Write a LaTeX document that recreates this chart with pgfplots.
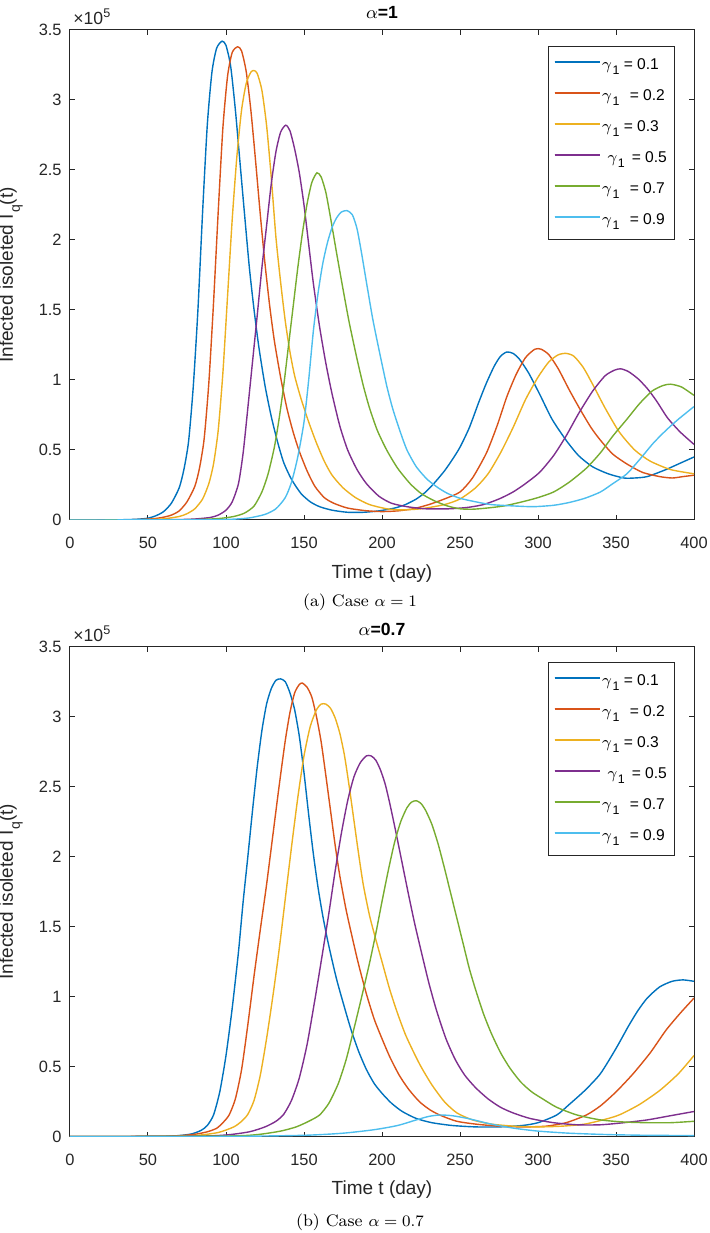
\documentclass[border=0pt]{standalone}
\usepackage{pgfplots}
\pgfplotsset{compat=1.18}
\usepackage{fontspec}
\newfontfamily\arial{Liberation Sans}
\definecolor{c1}{rgb}{0,0.447,0.741}
\definecolor{c2}{rgb}{0.85,0.325,0.098}
\definecolor{c3}{rgb}{0.929,0.694,0.125}
\definecolor{c4}{rgb}{0.494,0.184,0.556}
\definecolor{c5}{rgb}{0.466,0.674,0.188}
\definecolor{c6}{rgb}{0.301,0.745,0.933}
\definecolor{axc}{rgb}{0.15,0.15,0.15}
\newcommand{\gam}{$\gamma$\kern0.3pt\lower0.7ex\hbox{\fontsize{6.2}{7}\selectfont 1}}
\pgfplotsset{
  myax/.style={
    scale only axis, width=312pt, height=245pt,
    xmin=0, xmax=400, ymin=0, ymax=3.5,
    xtick={0,50,...,400}, ytick={0,0.5,...,3.5},
    scaled ticks=false, clip mode=individual,
    tick align=inside, major tick length=2.5pt,
    axis line style={draw=axc, line width=0.5pt},
    every tick/.style={axc, line width=0.5pt},
    /pgf/number format/assume math mode=true,
    ticklabel style={font=\arial\fontsize{8.2}{9.8}\selectfont, text=axc},
    yticklabel style={anchor=east, inner sep=0pt, xshift=-4pt},
    xticklabel style={anchor=north, inner sep=0pt, yshift=-8.5pt},
    xlabel={Time t (day)},
    every axis x label/.style={at={(axis description cs:0.5,-0.0898)}, anchor=north, inner sep=0pt, font=\arial\fontsize{9.5}{11}\selectfont, text=axc},
    ylabel={Infected isoleted I\kern0.5pt\lower0.7ex\hbox{\fontsize{7}{8}\selectfont q}(t)},
    every axis y label/.style={at={(axis description cs:-0.0946,0.5)}, rotate=90, anchor=center, inner sep=0pt, font=\arial\fontsize{9.5}{11}\selectfont, text=axc},
    legend style={at={(axis description cs:1,1)}, anchor=north east, xshift=-9.5pt, yshift=-7.5pt,
      draw=axc, line width=0.4pt, fill=white, inner xsep=2.85pt, inner ysep=4pt,
      row sep=4.5pt, font=\arial\fontsize{7.8}{9}\selectfont,
      nodes={inner sep=1pt, text height=6.5pt, text depth=2.5pt}},
    legend cell align=left,
    legend image code/.code={\draw[#1, line width=0.75pt] (0pt,1.5pt) -- (21pt,1.5pt); \path (0pt,1.5pt) -- (22.5pt,1.5pt);},
    every axis plot/.append style={line width=0.7pt, smooth, tension=0.4},
  }
}
\newcommand{\axdeco}[1]{%
\node[anchor=base west, inner sep=0pt, font=\arial\fontsize{8.8}{9}\selectfont, text=axc] at (axis description cs:0,1) [xshift=1.5pt, yshift=2.8pt] {×10\raisebox{0.75ex}{\fontsize{6.3}{7}\selectfont 5}};
\node[anchor=base, inner sep=0pt, font=\arial\bfseries\fontsize{8.8}{10}\selectfont, text=black] at (axis description cs:0.5,1) [yshift=5.5pt] {#1};
}
\begin{document}
\begin{tikzpicture}
\useasboundingbox (0,0) rectangle (355pt,616.5pt);
% ---------------- top axis: alpha = 1
\begin{axis}[myax, at={(35pt,356.5pt)}, anchor=south west, legend style={yshift=-0.35pt}]
\addplot[c1] coordinates {(0,0) (20,0.0005) (30,0.001) (40,0.004) (45,0.007) (50,0.013) (55,0.03) (60,0.06) (65,0.12) (70,0.23) (73,0.36) (76,0.56) (79,0.95) (82,1.5) (85,2.2) (88,2.82) (91,3.2) (94,3.37) (97.5,3.42) (100,3.39) (103,3.24) (106,2.93) (109,2.55) (112,2.17) (115,1.8) (118,1.5) (121,1.24) (125,0.96) (129,0.74) (133,0.56) (137,0.41) (142,0.29) (148,0.19) (154,0.13) (160,0.095) (168,0.07) (178,0.055) (188,0.055) (198,0.065) (208,0.085) (215,0.11) (222,0.15) (228,0.2) (234,0.27) (240,0.35) (245,0.43) (250,0.52) (256,0.66) (262,0.84) (267,0.98) (272,1.1) (276,1.17) (280,1.2) (284,1.19) (288,1.15) (294,1.05) (301,0.9) (309,0.72) (318,0.57) (326,0.46) (335,0.38) (345,0.33) (355,0.3) (362,0.3) (370,0.31) (382,0.36) (390,0.4) (400,0.45)};
\addlegendentry{\gam{} = 0.1}
\addplot[c2] coordinates {(0,0) (30,0.001) (40,0.002) (50,0.006) (55,0.011) (60,0.02) (65,0.035) (70,0.065) (75,0.13) (80,0.24) (83,0.37) (86,0.58) (89,0.98) (92,1.55) (95,2.2) (98,2.8) (101,3.17) (104,3.34) (107.5,3.38) (110,3.35) (113,3.2) (116,2.92) (119,2.56) (122,2.18) (125,1.83) (128,1.53) (131,1.28) (135,1.02) (139,0.8) (143,0.63) (147,0.49) (152,0.35) (157,0.24) (163,0.16) (169,0.12) (178,0.085) (190,0.066) (200,0.06) (210,0.065) (220,0.08) (230,0.11) (240,0.15) (250,0.2) (258,0.3) (267,0.48) (274,0.68) (280,0.88) (286,1.04) (292,1.16) (298,1.22) (302,1.22) (307,1.18) (313,1.08) (320,0.93) (327,0.79) (334,0.66) (340,0.57) (348,0.47) (357,0.4) (367,0.34) (378,0.31) (386,0.3) (393,0.31) (400,0.32)};
\addlegendentry{\gam{}\hspace{3pt} = 0.2}
\addplot[c3] coordinates {(0,0) (40,0.001) (50,0.003) (60,0.008) (70,0.025) (75,0.045) (80,0.08) (85,0.15) (89,0.26) (92,0.4) (95,0.64) (98,1.05) (101,1.6) (104,2.15) (107,2.6) (110,2.93) (113,3.12) (116,3.2) (118,3.21) (120,3.19) (123,3.07) (126,2.82) (129,2.45) (132,2.02) (135,1.7) (138,1.42) (141,1.2) (144,1.03) (148,0.87) (153,0.7) (158,0.55) (163,0.42) (168,0.32) (175,0.23) (183,0.16) (192,0.11) (203,0.08) (212,0.072) (225,0.08) (240,0.11) (250,0.15) (260,0.23) (268,0.33) (276,0.48) (284,0.66) (292,0.86) (300,1.02) (307,1.13) (313,1.18) (318,1.19) (323,1.17) (329,1.09) (335,0.97) (343,0.8) (352,0.63) (362,0.5) (372,0.42) (385,0.36) (400,0.33)};
\addlegendentry{\gam{} = 0.3}
\addplot[c4] coordinates {(0,0) (50,0.001) (60,0.002) (70,0.003) (80,0.007) (90,0.018) (95,0.035) (100,0.07) (104,0.13) (108,0.26) (111,0.48) (114,0.8) (117,1.13) (120,1.46) (123,1.8) (126,2.1) (129,2.4) (132,2.63) (135,2.77) (138.3,2.82) (141,2.78) (144,2.65) (147,2.48) (150,2.25) (153,1.97) (156,1.69) (160,1.38) (164,1.12) (168,0.9) (173,0.67) (178,0.5) (184,0.36) (190,0.26) (198,0.17) (206,0.12) (216,0.095) (228,0.08) (243,0.08) (255,0.09) (265,0.11) (275,0.15) (284,0.2) (292,0.26) (301,0.34) (310,0.46) (318,0.6) (326,0.76) (335,0.92) (343,1.03) (349,1.07) (353,1.08) (358,1.06) (364,1.01) (370,0.94) (376,0.85) (383,0.73) (391,0.63) (400,0.54)};
\addlegendentry{\hspace*{2.7pt}\gam{}\hspace{1.3pt} = 0.5}
\addplot[c5] coordinates {(0,0) (60,0.001) (80,0.003) (95,0.01) (105,0.025) (112,0.05) (118,0.1) (123,0.2) (127,0.33) (131,0.52) (134,0.72) (137,0.96) (140,1.24) (143,1.52) (146,1.8) (149,2.05) (152,2.26) (155,2.41) (158.3,2.48) (161,2.45) (164,2.34) (167,2.16) (171,1.9) (175,1.65) (179,1.41) (184,1.15) (188,0.96) (192,0.8) (197,0.64) (203,0.5) (210,0.37) (218,0.26) (225,0.19) (233,0.14) (242,0.1) (250,0.08) (258,0.077) (267,0.085) (278,0.1) (290,0.13) (300,0.16) (310,0.2) (320,0.27) (331,0.37) (340,0.48) (348,0.6) (357,0.72) (365,0.83) (373,0.92) (380,0.96) (385,0.97) (392,0.95) (400,0.89)};
\addlegendentry{\gam{}\hspace{3pt} = 0.7}
\addplot[c6] coordinates {(0,0) (80,0.001) (95,0.003) (105,0.006) (115,0.015) (125,0.04) (132,0.08) (138,0.16) (142,0.27) (146,0.45) (150,0.7) (153,1.0) (156,1.35) (159,1.62) (162,1.83) (165,1.98) (168,2.09) (171,2.16) (174,2.2) (177.6,2.21) (181,2.18) (184,2.08) (187,1.9) (190,1.7) (194,1.44) (198,1.22) (203,0.96) (207,0.79) (212,0.62) (216,0.5) (222,0.38) (229,0.29) (236,0.23) (242,0.19) (250,0.155) (260,0.13) (270,0.11) (285,0.1) (297,0.095) (310,0.105) (320,0.125) (330,0.155) (340,0.2) (348,0.26) (357,0.33) (365,0.43) (374,0.55) (382,0.64) (390,0.72) (400,0.81)};
\addlegendentry{\gam{}\hspace{3pt} = 0.9}
\axdeco{$\alpha$=1}
\end{axis}
\node[anchor=base, inner sep=0pt, font=\fontsize{8.4}{10}\selectfont] at (180pt,313pt) {(a) Case $\alpha=1$};
% ---------------- bottom axis: alpha = 0.7
\begin{axis}[myax, at={(35pt,48.15pt)}, anchor=south west]
\addplot[c1] coordinates {(0,0) (40,0.001) (50,0.002) (60,0.003) (70,0.008) (78,0.02) (84,0.045) (88,0.08) (92,0.155) (96,0.32) (100,0.58) (104,0.92) (108,1.32) (111,1.68) (114,2.0) (117,2.33) (120,2.64) (123,2.9) (126,3.09) (129,3.2) (132,3.26) (135,3.27) (138,3.25) (141,3.17) (144,3.05) (147,2.86) (150,2.6) (153,2.3) (156,2.02) (159,1.78) (162,1.58) (165,1.41) (168,1.26) (171,1.12) (175,0.96) (180,0.77) (185,0.61) (190,0.48) (195,0.38) (200,0.31) (206,0.24) (213,0.18) (222,0.13) (232,0.1) (245,0.08) (260,0.07) (275,0.07) (290,0.08) (300,0.1) (312,0.155) (320,0.23) (330,0.33) (340,0.45) (350,0.63) (358,0.79) (364,0.9) (370,0.99) (378,1.07) (386,1.11) (393,1.12) (400,1.11)};
\addlegendentry{\gam{} = 0.1}
\addplot[c2] coordinates {(0,0) (60,0.003) (70,0.007) (80,0.017) (88,0.035) (94,0.06) (98,0.1) (102,0.155) (106,0.27) (110,0.48) (114,0.8) (118,1.15) (122,1.48) (126,1.8) (130,2.15) (134,2.5) (138,2.83) (141,3.03) (144,3.17) (147,3.23) (149,3.24) (152,3.21) (155,3.14) (158,3.0) (161,2.82) (164,2.58) (167,2.33) (170,2.08) (173,1.86) (177,1.62) (181,1.42) (185,1.23) (190,1.02) (195,0.84) (200,0.7) (205,0.57) (211,0.44) (217,0.34) (224,0.25) (231,0.19) (238,0.15) (248,0.11) (260,0.09) (275,0.075) (290,0.07) (305,0.075) (318,0.1) (331,0.155) (340,0.22) (350,0.32) (361,0.45) (372,0.6) (382,0.76) (391,0.88) (400,0.99)};
\addlegendentry{\gam{}\hspace{3pt} = 0.2}
\addplot[c3] coordinates {(0,0) (60,0.002) (80,0.008) (95,0.03) (105,0.07) (110,0.11) (114,0.16) (118,0.26) (122,0.44) (126,0.7) (130,1.0) (134,1.33) (138,1.7) (142,2.07) (146,2.42) (150,2.72) (154,2.93) (158,3.05) (161,3.09) (164,3.09) (167,3.06) (170,2.99) (173,2.88) (176,2.72) (179,2.5) (182,2.26) (185,2.02) (188,1.8) (192,1.58) (196,1.41) (200,1.25) (205,1.05) (210,0.88) (215,0.73) (220,0.61) (225,0.5) (232,0.37) (240,0.25) (248,0.17) (258,0.12) (270,0.09) (285,0.075) (300,0.07) (315,0.075) (330,0.09) (345,0.13) (353,0.16) (365,0.23) (378,0.33) (390,0.45) (400,0.58)};
\addlegendentry{\gam{} = 0.3}
\addplot[c4] coordinates {(0,0) (80,0.004) (100,0.012) (115,0.035) (125,0.07) (132,0.11) (137,0.16) (142,0.26) (147,0.42) (152,0.66) (157,0.98) (162,1.32) (166,1.6) (170,1.9) (174,2.17) (178,2.4) (182,2.57) (186,2.67) (190,2.72) (193,2.72) (196,2.69) (199,2.62) (202,2.52) (205,2.38) (209,2.17) (213,1.95) (217,1.73) (221,1.52) (225,1.33) (230,1.1) (235,0.9) (241,0.7) (247,0.55) (253,0.44) (260,0.35) (268,0.27) (276,0.21) (284,0.17) (295,0.13) (310,0.1) (325,0.085) (340,0.085) (355,0.1) (370,0.12) (385,0.15) (400,0.18)};
\addlegendentry{\hspace*{2.7pt}\gam{}\hspace{1.3pt} = 0.5}
\addplot[c5] coordinates {(0,0) (100,0.005) (120,0.015) (135,0.04) (145,0.07) (153,0.11) (160,0.155) (166,0.24) (172,0.38) (177,0.55) (182,0.77) (187,1.0) (192,1.24) (196,1.45) (200,1.68) (204,1.9) (208,2.1) (212,2.25) (216,2.35) (219,2.39) (222,2.4) (225,2.38) (228,2.33) (232,2.23) (236,2.09) (240,1.92) (244,1.74) (248,1.56) (252,1.38) (256,1.2) (260,1.05) (265,0.88) (270,0.74) (276,0.6) (282,0.49) (289,0.39) (296,0.32) (303,0.27) (312,0.21) (325,0.155) (340,0.12) (355,0.105) (370,0.1) (385,0.1) (400,0.11)};
\addlegendentry{\gam{}\hspace{3pt} = 0.7}
\addplot[c6] coordinates {(0,0) (100,0.002) (150,0.01) (175,0.025) (195,0.05) (210,0.08) (222,0.12) (230,0.145) (237,0.155) (245,0.15) (255,0.13) (270,0.09) (285,0.06) (300,0.04) (320,0.025) (345,0.015) (370,0.01) (400,0.008)};
\addlegendentry{\gam{}\hspace{3pt} = 0.9}
\axdeco{$\alpha$=0.7}
\end{axis}
\node[anchor=base, inner sep=0pt, font=\fontsize{8.4}{10}\selectfont] at (180pt,3pt) {(b) Case $\alpha=0.7$};
\end{tikzpicture}
\end{document}
